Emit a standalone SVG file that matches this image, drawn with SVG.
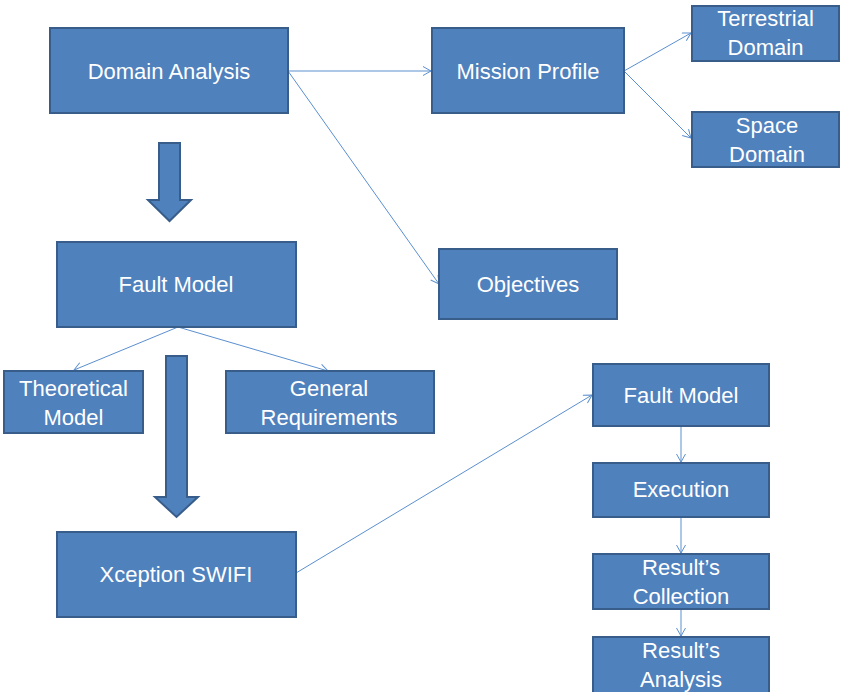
<svg xmlns="http://www.w3.org/2000/svg" width="845" height="692" viewBox="0 0 845 692">
  <defs>
    <style>
      .box { fill: #4F81BD; stroke: #385D8A; stroke-width: 2; }
      .lbl { fill: #FFFFFF; font-family: "Liberation Sans", Arial, sans-serif; font-size: 22px; text-anchor: middle; }
      .link { fill: none; stroke: #5B8FCF; stroke-width: 1; marker-end: url(#chev); }
      .big { fill: #4F81BD; stroke: #385D8A; stroke-width: 2; stroke-linejoin: miter; }
    </style>
    <marker id="chev" markerUnits="userSpaceOnUse" markerWidth="12" markerHeight="12" refX="9" refY="5" orient="auto">
      <path d="M1,0.5 L9,5 L1,9.5" fill="none" stroke="#5B8FCF" stroke-width="1"/>
    </marker>
  </defs>

  <rect width="845" height="692" fill="#FFFFFF"/>

  <!-- connectors -->
  <g id="connectors">
    <line class="link" x1="288" y1="71" x2="431" y2="71"/>
    <line class="link" x1="288" y1="71" x2="439" y2="284"/>
    <line class="link" x1="624" y1="71" x2="691" y2="33"/>
    <line class="link" x1="624" y1="71" x2="691" y2="138"/>
    <line class="link" x1="178" y1="327" x2="74" y2="370"/>
    <line class="link" x1="178" y1="327" x2="328" y2="371"/>
    <line class="link" x1="296" y1="573" x2="592" y2="395"/>
    <line class="link" x1="681" y1="426" x2="681" y2="462"/>
    <line class="link" x1="681" y1="517" x2="681" y2="553"/>
    <line class="link" x1="681" y1="609" x2="681" y2="636"/>
    <!-- block arrows -->
    <path class="big" d="M159,143 L180,143 L180,200 L191,200 L169.5,221 L148,200 L159,200 Z"/>
    <path class="big" d="M166,356 L187,356 L187,497 L198,497 L176.5,517 L155,497 L166,497 Z"/>
  </g>

  <g id="domain-analysis">
    <rect class="box" x="50" y="28" width="238" height="85"/>
    <text class="lbl" x="169" y="79">Domain Analysis</text>
  </g>

  <g id="mission-profile">
    <rect class="box" x="432" y="28" width="192" height="85"/>
    <text class="lbl" x="528" y="79">Mission Profile</text>
  </g>

  <g id="terrestrial-domain">
    <rect class="box" x="692" y="6" width="147" height="55"/>
    <text class="lbl" x="765.5" y="26">Terrestrial</text>
    <text class="lbl" x="765.5" y="55">Domain</text>
  </g>

  <g id="space-domain">
    <rect class="box" x="692" y="112" width="147" height="55"/>
    <text class="lbl" x="767" y="133">Space</text>
    <text class="lbl" x="767" y="162">Domain</text>
  </g>

  <g id="objectives">
    <rect class="box" x="439" y="249" width="178" height="70"/>
    <text class="lbl" x="528" y="292">Objectives</text>
  </g>

  <g id="fault-model">
    <rect class="box" x="57" y="242" width="239" height="85"/>
    <text class="lbl" x="176" y="292">Fault Model</text>
  </g>

  <g id="theoretical-model">
    <rect class="box" x="4" y="371" width="139" height="62"/>
    <text class="lbl" x="73.5" y="396">Theoretical</text>
    <text class="lbl" x="73.5" y="425">Model</text>
  </g>

  <g id="general-requirements">
    <rect class="box" x="226" y="371" width="208" height="62"/>
    <text class="lbl" x="329" y="396">General</text>
    <text class="lbl" x="329" y="425">Requirements</text>
  </g>

  <g id="xception-swifi">
    <rect class="box" x="57" y="532" width="239" height="85"/>
    <text class="lbl" x="176" y="582">Xception SWIFI</text>
  </g>

  <g id="fault-model-2">
    <rect class="box" x="593" y="364" width="176" height="62"/>
    <text class="lbl" x="681" y="403">Fault Model</text>
  </g>

  <g id="execution">
    <rect class="box" x="593" y="463" width="176" height="54"/>
    <text class="lbl" x="681" y="497">Execution</text>
  </g>

  <g id="results-collection">
    <rect class="box" x="593" y="554" width="176" height="55"/>
    <text class="lbl" x="681" y="575">Result’s</text>
    <text class="lbl" x="681" y="604">Collection</text>
  </g>

  <g id="results-analysis">
    <rect class="box" x="593" y="637" width="176" height="60"/>
    <text class="lbl" x="681" y="658">Result’s</text>
    <text class="lbl" x="681" y="687">Analysis</text>
  </g>
</svg>
